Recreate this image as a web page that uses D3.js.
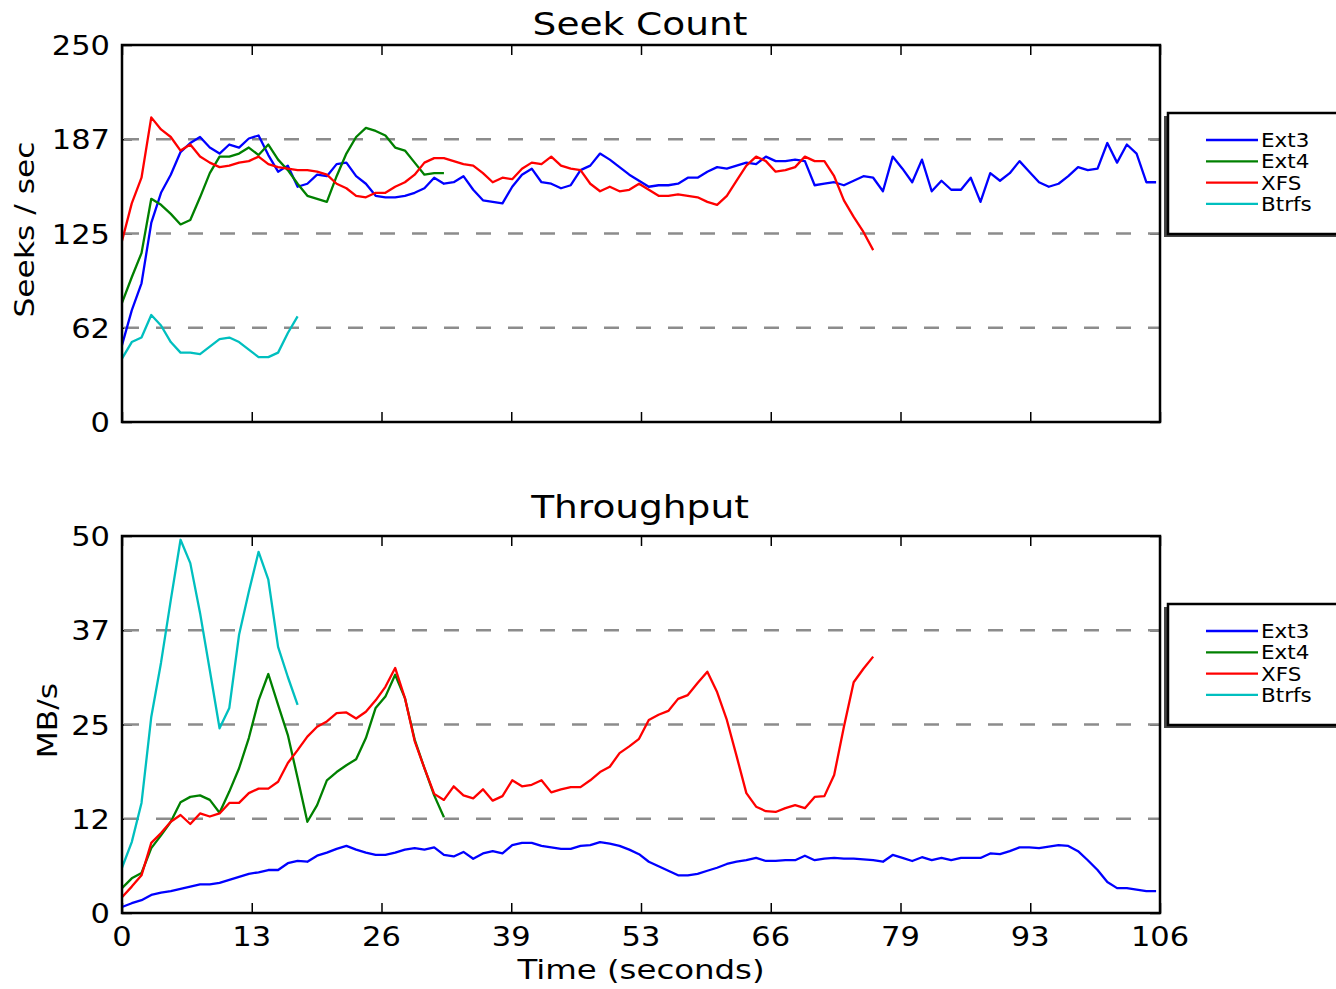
<!DOCTYPE html>
<html>
<head>
<meta charset="utf-8">
<script src="https://cdn.jsdelivr.net/npm/d3@7"></script>
<style>
  body { margin: 0; background: #fff; }
  svg { display: block; }
  text { font-family: "DejaVu Sans", sans-serif; fill: #000; }
</style>
</head>
<body>
<svg id="chart" width="1336" height="989"></svg>
<script>
// file systems, one series each
var fsNames = ['Ext3', 'Ext4', 'XFS', 'Btrfs'];
var fsColors = ['#0000ff', '#008000', '#ff0000', '#00bfbf'];

var xTickLabels = ['0', '13', '26', '39', '53', '66', '79', '93', '106'];
var seekTickLabels = ['0', '62', '125', '187', '250'];
var mbTickLabels = ['0', '12', '25', '37', '50'];

// seeks / sec, one value per second
var seekExt3 = [51, 74, 92, 132, 152, 164, 179, 185, 189, 182, 178, 184, 182, 188, 190, 177, 166, 170, 156, 158,
  164, 163, 171, 172, 163, 158, 150, 149, 149, 150, 152, 155, 162, 158, 159, 163, 154, 147, 146, 145,
  156, 164, 168, 159, 158, 155, 157, 167, 170, 178, 174, 169, 164, 160, 156, 157, 157, 158, 162, 162,
  166, 169, 168, 170, 172, 171, 176, 173, 173, 174, 173, 157, 158, 159, 157, 160, 163, 162, 153, 176,
  168, 159, 174, 153, 160, 154, 154, 162, 146, 165, 160, 165, 173, 166, 159, 156, 158, 163, 169, 167,
  168, 185, 172, 184, 178, 159, 159];
var seekExt4 = [79, 96, 112, 148, 144, 138, 131, 134, 149, 165, 176, 176, 178, 182, 177, 184, 174, 167, 158, 150,
  148, 146, 163, 178, 189, 195, 193, 190, 182, 180, 172, 164, 165, 165];
var seekXfs = [120, 145, 162, 202, 194, 189, 180, 184, 176, 172, 169, 170, 172, 173, 176, 171, 169, 168, 167, 167,
  166, 164, 158, 155, 150, 149, 152, 152, 156, 159, 164, 172, 175, 175, 173, 171, 170, 165, 159, 162,
  161, 168, 172, 171, 176, 170, 168, 167, 158, 153, 156, 153, 154, 158, 154, 150, 150, 151, 150, 149,
  146, 144, 150, 160, 170, 176, 173, 166, 167, 169, 176, 173, 173, 163, 147, 136, 126, 114];
var seekBtrfs = [42, 53, 56, 71, 64, 53, 46, 46, 45, 50, 55, 56, 53, 48, 43, 43, 46, 59, 70];

// throughput MB/s, one value per second
var mbExt3 = [0.8, 1.3, 1.7, 2.4, 2.7, 2.9, 3.2, 3.5, 3.8, 3.8, 4.0, 4.4, 4.8, 5.2, 5.4, 5.7, 5.7, 6.6, 6.9, 6.8,
  7.6, 8.0, 8.5, 8.9, 8.4, 8.0, 7.7, 7.7, 8.0, 8.4, 8.6, 8.4, 8.7, 7.7, 7.5, 8.1, 7.2, 7.9, 8.2, 7.9,
  9.0, 9.3, 9.3, 8.9, 8.7, 8.5, 8.5, 8.9, 9.0, 9.4, 9.2, 8.9, 8.4, 7.8, 6.8, 6.2, 5.6, 5.0, 5.0, 5.2,
  5.6, 6.0, 6.5, 6.8, 7.0, 7.3, 6.9, 6.9, 7.0, 7.0, 7.6, 7.0, 7.2, 7.3, 7.2, 7.2, 7.1, 7.0, 6.8, 7.7,
  7.3, 6.9, 7.4, 7.0, 7.3, 7.0, 7.3, 7.3, 7.3, 7.9, 7.8, 8.2, 8.7, 8.7, 8.6, 8.8, 9.0, 8.9, 8.2, 7.0,
  5.7, 4.1, 3.3, 3.3, 3.1, 2.9, 2.9];
var mbExt4 = [3.3, 4.6, 5.3, 8.6, 10.3, 12.1, 14.7, 15.4, 15.6, 15.0, 13.3, 16.1, 19.2, 23.2, 28.2, 31.7, 27.6, 23.6, 17.9, 12.1,
  14.3, 17.6, 18.7, 19.6, 20.4, 23.2, 27.2, 28.7, 31.6, 28.5, 23.0, 19.2, 15.6, 12.7];
var mbXfs = [2.1, 3.5, 5.0, 9.3, 10.6, 12.1, 13.0, 11.8, 13.2, 12.8, 13.2, 14.6, 14.6, 15.9, 16.5, 16.5, 17.4, 19.9, 21.6, 23.4,
  24.7, 25.4, 26.5, 26.6, 25.8, 26.7, 28.2, 30.0, 32.5, 28.5, 22.8, 19.2, 15.8, 15.0, 16.8, 15.6, 15.2, 16.4, 14.9, 15.5,
  17.6, 16.8, 17.0, 17.6, 16.0, 16.4, 16.7, 16.7, 17.6, 18.7, 19.4, 21.2, 22.1, 23.1, 25.6, 26.3, 26.8, 28.4, 28.9, 30.5,
  32.0, 29.3, 25.6, 20.8, 15.9, 14.1, 13.5, 13.4, 13.9, 14.3, 13.9, 15.4, 15.5, 18.3, 24.7, 30.6, 32.4, 34.0];
var mbBtrfs = [6.0, 9.4, 14.6, 26.0, 33.2, 41.5, 49.5, 46.4, 39.8, 32.2, 24.5, 27.2, 36.9, 42.6, 47.9, 44.2, 35.3, 31.3, 27.6];

var X_MAX = 106.4;
var STRETCH = 1.13; // glyphs in the picture are a bit wider than DejaVu

var svg = d3.select('#chart');
var left = 122, right = 1160;

var x = d3.scaleLinear().domain([0, X_MAX]).range([left, right]);
var xTicks = xTickLabels.map(function (d, i) { return i * X_MAX / (xTickLabels.length - 1); });

function label(g, px, py, str, size, anchor, rot, stretch) {
  return g.append('text')
    .attr('transform', 'translate(' + px + ',' + py + ')' + (rot ? ' rotate(' + rot + ')' : '') +
      ' scale(' + (stretch || STRETCH) + ',1)')
    .attr('text-anchor', anchor)
    .attr('font-size', size)
    .text(str);
}

function panel(cfg) {
  var g = svg.append('g');
  var yMax = +cfg.tickLabels[cfg.tickLabels.length - 1];
  var y = d3.scaleLinear().domain([0, yMax]).range([cfg.bottom, cfg.top]);
  var yTicks = cfg.tickLabels.map(function (d, i) { return i * yMax / (cfg.tickLabels.length - 1); });

  // tick marks, all pointing inward
  var tick = function (axis, tx, ty) {
    g.append('g').attr('transform', 'translate(' + tx + ',' + ty + ')').call(axis)
      .call(function (a) {
        a.select('.domain').remove();
        a.selectAll('text').remove();
        a.selectAll('line').attr('stroke', '#000').attr('stroke-width', 1.5);
      });
  };
  tick(d3.axisBottom(x).tickValues(xTicks).tickSize(-10), 0, cfg.bottom);
  tick(d3.axisTop(x).tickValues(xTicks).tickSize(-10), 0, cfg.top);
  tick(d3.axisLeft(y).tickValues(yTicks).tickSize(-10), left, 0);
  tick(d3.axisRight(y).tickValues(yTicks).tickSize(-10), right, 0);

  // dashed grid at inner ticks
  g.append('g').selectAll('line').data(yTicks.slice(1, -1)).join('line')
    .attr('x1', left).attr('x2', right)
    .attr('y1', function (d) { return y(d); }).attr('y2', function (d) { return y(d); })
    .attr('stroke', '#8c8c8c').attr('stroke-width', 2.5)
    .attr('stroke-dasharray', '15,17').attr('stroke-dashoffset', -2);

  var line = d3.line()
    .x(function (d, i) { return x(i); })
    .y(function (d) { return y(d); });

  g.append('g').selectAll('path').data(cfg.series).join('path')
    .attr('d', line)
    .attr('fill', 'none')
    .attr('stroke', function (d, i) { return fsColors[i]; })
    .attr('stroke-width', 2.3)
    .attr('stroke-linejoin', 'round');

  // frame
  g.append('rect')
    .attr('x', left).attr('y', cfg.top)
    .attr('width', right - left).attr('height', cfg.bottom - cfg.top)
    .attr('fill', 'none').attr('stroke', '#000').attr('stroke-width', 2.5);

  // y tick labels
  yTicks.forEach(function (v, i) {
    label(g, 110, y(v) + 10, cfg.tickLabels[i], 27, 'end');
  });
  if (cfg.showX) {
    xTicks.forEach(function (v, i) {
      label(g, x(v), cfg.bottom + 33, xTickLabels[i], 27, 'middle');
    });
  }

  label(g, (left + right) / 2 - 1, cfg.titleY, cfg.title, 31.5, 'middle', 0, 1.19);
  label(g, cfg.yLabelX, (cfg.top + cfg.bottom) / 2 - 4, cfg.yLabel, 27, 'middle', -90, 1.16);

  // legend
  var lt = cfg.top + 68;
  var lg = g.append('g');
  lg.append('rect').attr('x', 1164).attr('y', lt + 3).attr('width', 200).attr('height', 121).attr('fill', '#444');
  lg.append('rect').attr('x', 1168).attr('y', lt).attr('width', 200).attr('height', 121)
    .attr('fill', '#fff').attr('stroke', '#000').attr('stroke-width', 2.5);
  fsNames.forEach(function (name, i) {
    var ry = lt + 27 + i * 21.3;
    lg.append('line').attr('x1', 1206).attr('x2', 1258).attr('y1', ry).attr('y2', ry)
      .attr('stroke', fsColors[i]).attr('stroke-width', 2.3);
    label(lg, 1261, ry + 7, name, 19, 'start');
  });
}

panel({
  top: 45, bottom: 422, titleY: 35, title: 'Seek Count', yLabel: 'Seeks / sec', yLabelX: 34,
  tickLabels: seekTickLabels, series: [seekExt3, seekExt4, seekXfs, seekBtrfs], showX: false
});
panel({
  top: 536, bottom: 913, titleY: 518, title: 'Throughput', yLabel: 'MB/s', yLabelX: 57,
  tickLabels: mbTickLabels, series: [mbExt3, mbExt4, mbXfs, mbBtrfs], showX: true
});

label(svg, (left + right) / 2, 979, 'Time (seconds)', 27, 'middle', 0, 1.2);
</script>
</body>
</html>
